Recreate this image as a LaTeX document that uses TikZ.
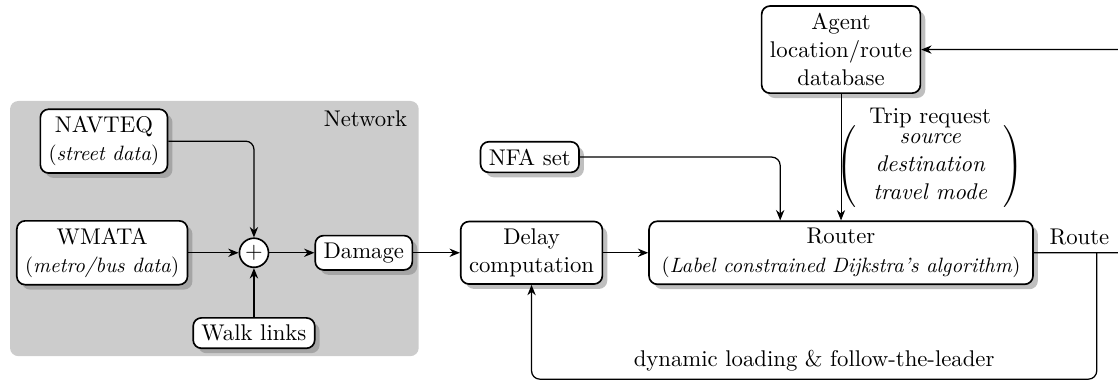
\documentclass[11pt,tikz,border=0pt]{standalone}
\usepackage{amsmath}
\usetikzlibrary{positioning, arrows.meta, shadows, calc}

\begin{document}
\begin{tikzpicture}[
    block/.style={draw, thick, fill=white, rounded corners=4pt, align=center,
                  inner xsep=4pt, inner ysep=3.4pt, drop shadow},
    conn/.style={-{Stealth[length=5pt, width=4pt]}, semithick, rounded corners=4pt},
  ]
    \useasboundingbox (0,0) rectangle (18.93,-6.45);
    \clip (0,0) rectangle (18.93,-6.45);

    % network part
    \fill[gray!40, rounded corners=4pt] (0.17,-1.71) rectangle (7.09,-6.03);
    \node[anchor=north east] (netlabel) at (7.03,-1.74) {Network};

    \node[block] (navteq) at (1.76,-2.39) {NAVTEQ\\{\small(\textit{street data})}};
    \node[block] (wmata) at (1.73,-4.28) {WMATA\\{\small(\textit{metro/bus data})}};
    \node[draw, thick, fill=white, circle, inner sep=1pt] (plus) at (4.30,-4.28) {$+$};
    \node[block] (walk) at (4.30,-5.64) {Walk links};
    \node[block] (damage) at (6.16,-4.28) {Damage};

    % routing part
    \node[block] (delay) at (9.0,-4.28) {Delay\\computation};
    \node[block] (nfa) at (8.97,-2.66) {NFA set};
    \node[block, minimum width=6.5cm] (router) at (14.24,-4.28)
          {Router\\{\small(\textit{Label constrained Dijkstra's algorithm})}};
    \node[block] (agent) at (14.24,-0.84) {Agent\\location/route\\database};
    \node[align=center] (trip) at (15.75,-2.68)
          {Trip request\\[-3pt]
           $\left(\;\begin{array}{c}\textit{source}\\\textit{destination}\\\textit{travel mode}\end{array}\;\right)$};

    \coordinate (fb) at (18.57,-4.28);
    \coordinate (fbb) at (18.57,-6.42);
    \coordinate (rt) at (19.3,-4.28);

    \draw[conn] (navteq.east) -| (plus.north);
    \draw[conn] (wmata) -- (plus);
    \draw[conn] (walk) -- (plus);
    \draw[conn] (plus) -- (damage);
    \draw[conn] (damage) -- (delay);
    \draw[conn] (delay) -- (router);
    \draw[conn] (nfa.east) -| ($(router.north)+(-1.03,0)$);
    \draw[conn, thin] (agent) -- (router);
    \draw[conn] (router.east) -- node[above, pos=0.43] (route) {Route} (rt) |- (agent.east);
    \draw[conn] (fb) -- (fbb) -| node[pos=0.25, above] (loading) {dynamic loading \& follow-the-leader} (delay.south);
\end{tikzpicture}
\end{document}
